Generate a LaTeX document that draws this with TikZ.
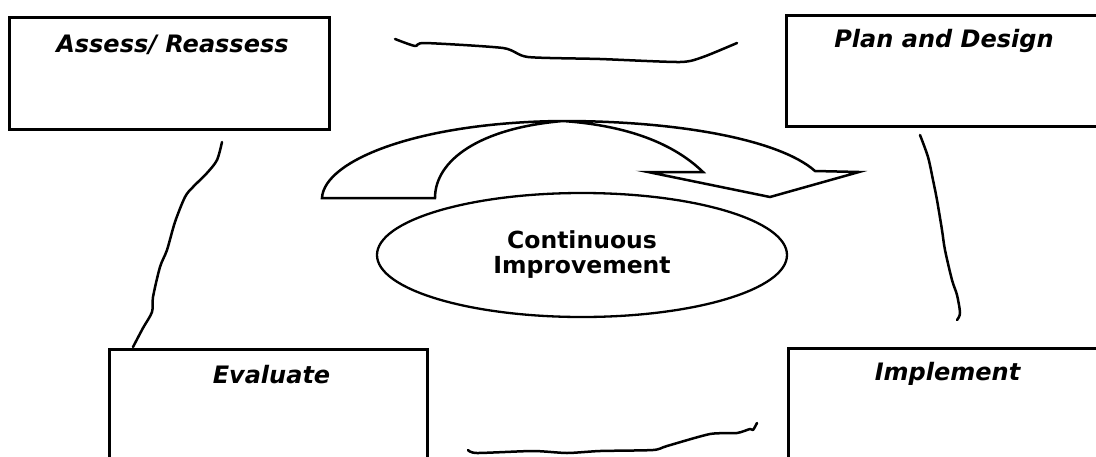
\documentclass[tikz,border=0pt]{standalone}
\usepackage{fontspec}
\setmainfont{DejaVu Sans}
\usetikzlibrary{positioning,shapes.geometric,calc}
\tikzset{
  stage/.style={draw=black,line width=3pt,minimum width=320pt,minimum height=112pt,anchor=north west,inner sep=0pt},
  ttl/.style={font=\fontsize{24}{26}\selectfont\bfseries\itshape,anchor=base,inner sep=0pt},
  hub/.style={ellipse,draw=black,line width=2.3pt,minimum width=410pt,minimum height=124pt,align=center,font=\fontsize{23.5}{25}\selectfont\bfseries,inner sep=0pt},
  cyc/.style={draw=black,line width=2.5pt,line join=miter,fill=white},
  squig/.style={draw=black,line width=2.5pt,line cap=round,line join=round},
}
\begin{document}
\begin{tikzpicture}[x=1pt,y=-1pt]
\clip (0,0) rectangle (1096,456);
\fill[white] (0,0) rectangle (1096,456);
% the four stages
\node[stage] (assess) at (8,16) {};
\node[stage,minimum width=315pt,minimum height=111pt] (plan) at (785,14) {};
\node[stage,minimum width=318pt] (eval) at (108,348) {};
\node[stage,minimum width=318pt] (impl) at (787,347) {};
\node[ttl] (assesst) at ($(assess.north)+(3,36)$) {Assess/ Reassess};
\node[ttl] (plant) at ($(plan.north)+(0,33)$) {Plan and Design};
\node[ttl] (evalt) at ($(eval.north)+(3,35)$) {Evaluate};
\node[ttl] (implt) at ($(impl.north)+(0,33)$) {Implement};
% curved arrow
\draw[cyc] (322,198) .. controls (324,160) and (420,122) .. (563,121)
  .. controls (680,121) and (780,140) .. (815,171) -- (859,172) -- (770,197)
  -- (648,172) -- (703,172) .. controls (670,140) and (620,125) .. (563,121)
  .. controls (480,128) and (435,160) .. (435,198) -- cycle;
\node[hub] (ci) at (582,255) {Continuous\\Improvement};
% hand drawn links
\coordinate (s1a) at (395,39); \coordinate (s1b) at (737,43);
\coordinate (s2a) at (920,135); \coordinate (s2b) at (957,320);
\coordinate (s3a) at (757,423); \coordinate (s3b) at (468,450);
\coordinate (s4a) at (133,347); \coordinate (s4b) at (222,142);
\draw[squig] plot[smooth,tension=0.4] coordinates {(s1a) (415,46) (425,43) (503,48) (528,57) (600,59) (680,62) (703,57) (s1b)};
\draw[squig] plot[smooth,tension=0.5] coordinates {(s2a) (928,157) (933,180) (937,200) (942,230) (945,250) (952,280) (957,295) (960,313) (s2b)};
\draw[squig] plot[smooth,tension=0.4] coordinates {(s3a) (753,430) (750,429) (737,433) (710,434) (667,446) (653,450) (600,451) (567,453) (533,451) (477,453) (s3b)};
\draw[squig] plot[smooth,tension=0.5] coordinates {(s4a) (143,328) (152,312) (153,297) (160,267) (167,250) (175,222) (185,197) (193,187) (207,173) (217,160) (s4b)};
\end{tikzpicture}
\end{document}
